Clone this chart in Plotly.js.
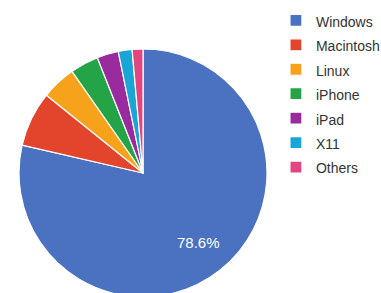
<!DOCTYPE html>
<html>
<head>
<meta charset="utf-8">
<script src="https://cdn.plot.ly/plotly-3.0.1.min.js"></script>
<style>
html,body{margin:0;padding:0;width:381px;height:293px;overflow:hidden;background:#fff;}
#chart{width:381px;height:300px;}
</style>
</head>
<body>
<div id="chart"></div>
<script>
var categories = ["Windows", "Macintosh", "Linux", "iPhone", "iPad", "X11", "Others"];
var shares = [78.6, 7.2, 4.5, 3.7, 2.8, 1.8, 1.4];
var labelledSlice = 0;
var colors = ["#4a72c0", "#e2452b", "#f7a21b", "#25a347", "#9a2b9e", "#19a5d5", "#e2457f"];

var legendLabels = categories.map(function (c) {
  return '<span style="font-size:14px">' + c + '</span>';
});

var trace = {
  type: "pie",
  labels: legendLabels,
  values: shares,
  textinfo: "none",
  sort: false,
  direction: "clockwise",
  rotation: 0,
  marker: {colors: colors, line: {color: "#ffffff", width: 1.2}},
  hoverinfo: "label+percent"
};

// place the percentage label of the big slice along its mid-angle
var total = shares.reduce(function (a, b) { return a + b; }, 0);
var before = shares.slice(0, labelledSlice).reduce(function (a, b) { return a + b; }, 0);
var midAngle = ((before + shares[labelledSlice] / 2) / total) * 2 * Math.PI;
var rFrac = 0.72 * 0.5;
var ann = {
  xref: "paper", yref: "paper",
  x: 0.5 + rFrac * Math.sin(midAngle),
  y: 0.5 + rFrac * Math.cos(midAngle),
  text: shares[labelledSlice].toFixed(1) + "%",
  showarrow: false,
  xanchor: "center", yanchor: "middle",
  font: {family: "Liberation Sans, Arial, sans-serif", size: 15, color: "#ffffff"}
};

var layout = {
  width: 381,
  height: 300,
  margin: {l: 19, r: 114, t: 49, b: 3, autoexpand: false},
  paper_bgcolor: "#ffffff",
  showlegend: true,
  annotations: [ann],
  legend: {
    x: 1.036, y: 1.185, xanchor: "left", yanchor: "top",
    maxheight: 290,
    font: {family: "Liberation Sans, Arial, sans-serif", size: 16.5, color: "#333333"},
    bgcolor: "rgba(0,0,0,0)"
  },
  font: {family: "Liberation Sans, Arial, sans-serif"}
};

Plotly.newPlot("chart", [trace], layout, {displayModeBar: false, staticPlot: true});
</script>
</body>
</html>
